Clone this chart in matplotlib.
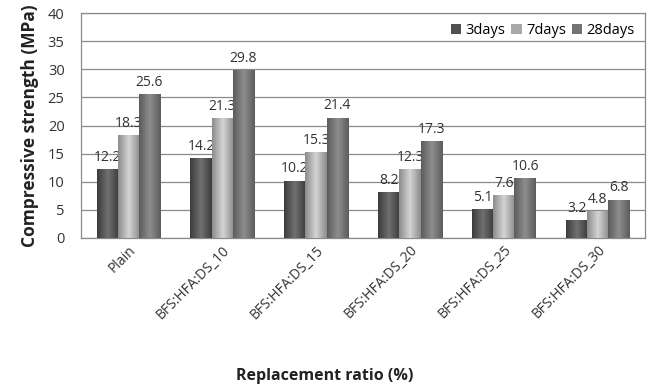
# Libraries ----------------------------------------

import numpy as np
import matplotlib
matplotlib.use("Agg")
import matplotlib.pyplot as plt
from matplotlib.colors import LinearSegmentedColormap

# Data ----------------------------------------

categories = ["Plain", "BFS:HFA:DS_10", "BFS:HFA:DS_15", "BFS:HFA:DS_20",
              "BFS:HFA:DS_25", "BFS:HFA:DS_30"]
series_names = ["3days", "7days", "28days"]
days3 = [12.2, 14.2, 10.2, 8.2, 5.1, 3.2]
days7 = [18.3, 21.3, 15.3, 12.3, 7.6, 4.8]
days28 = [25.6, 29.8, 21.4, 17.3, 10.6, 6.8]
yticks = [0, 5, 10, 15, 20, 25, 30, 35, 40]

# Style ----------------------------------------

plt.rcParams['font.family'] = ['Open Sans', 'DejaVu Sans']
base_colors = ["#505050", "#a8a8a8", "#737373"]
shades = [("#3c3c3c", "#707070"), ("#8c8c8c", "#d4d4d4"), ("#5c5c5c", "#8e8e8e")]

fig = plt.figure(figsize=(6.5, 3.88), dpi=100)
ax = fig.add_axes([0.125, 0.387, 0.867, 0.579])

x = np.arange(len(categories))
width = 0.225
all_series = [days3, days7, days28]

for i, (vals, name) in enumerate(zip(all_series, series_names)):
    bars = ax.bar(x + (i - 1) * width, vals, width, color=base_colors[i],
                  label=name, zorder=3, edgecolor="none")
    # cylinder-like shading
    dark, light = shades[i]
    cmap = LinearSegmentedColormap.from_list("s", [dark, light, dark])
    grad = np.linspace(0, 1, 64).reshape(1, -1)
    for b, v in zip(bars, vals):
        im = ax.imshow(grad, cmap=cmap, aspect="auto", zorder=3.5,
                       extent=[b.get_x(), b.get_x() + b.get_width(), 0, v])
        im.set_clip_path(b)
        ax.annotate(f"{v}", (b.get_x() + b.get_width() / 2, v),
                    xytext=(0, 3), textcoords="offset points",
                    ha="center", va="bottom", fontsize=10, color="#333333")

ax.set_xlim(-0.5, len(categories) - 0.5)
ax.set_ylim(0, 40)
ax.set_yticks(yticks)
ax.yaxis.grid(True, color="#8a8a8a", linewidth=0.9, zorder=0)
ax.set_axisbelow(True)
ax.tick_params(axis="both", length=0, labelsize=10.5, colors="#333333")
ax.tick_params(axis="y", pad=12)
ax.set_xticks(x)
ax.set_xticklabels(categories, rotation=45, ha="right", rotation_mode="anchor",
                   fontsize=10)

for s in ax.spines.values():
    s.set_color("#8a8a8a")
    s.set_linewidth(0.9)

ax.set_ylabel("Compressive strength (MPa)", fontsize=12.5, fontweight="bold",
              color="#222222", labelpad=6)
fig.text(0.5, 0.03, "Replacement ratio (%)", ha="center", va="center",
         fontsize=11.5, fontweight="bold", color="#222222")

ax.legend(loc="upper right", ncol=3, frameon=False, fontsize=10.5,
          handlelength=0.7, handleheight=0.7, handletextpad=0.3,
          columnspacing=0.4, borderaxespad=0.3)

fig.savefig("out.png", dpi=100)
